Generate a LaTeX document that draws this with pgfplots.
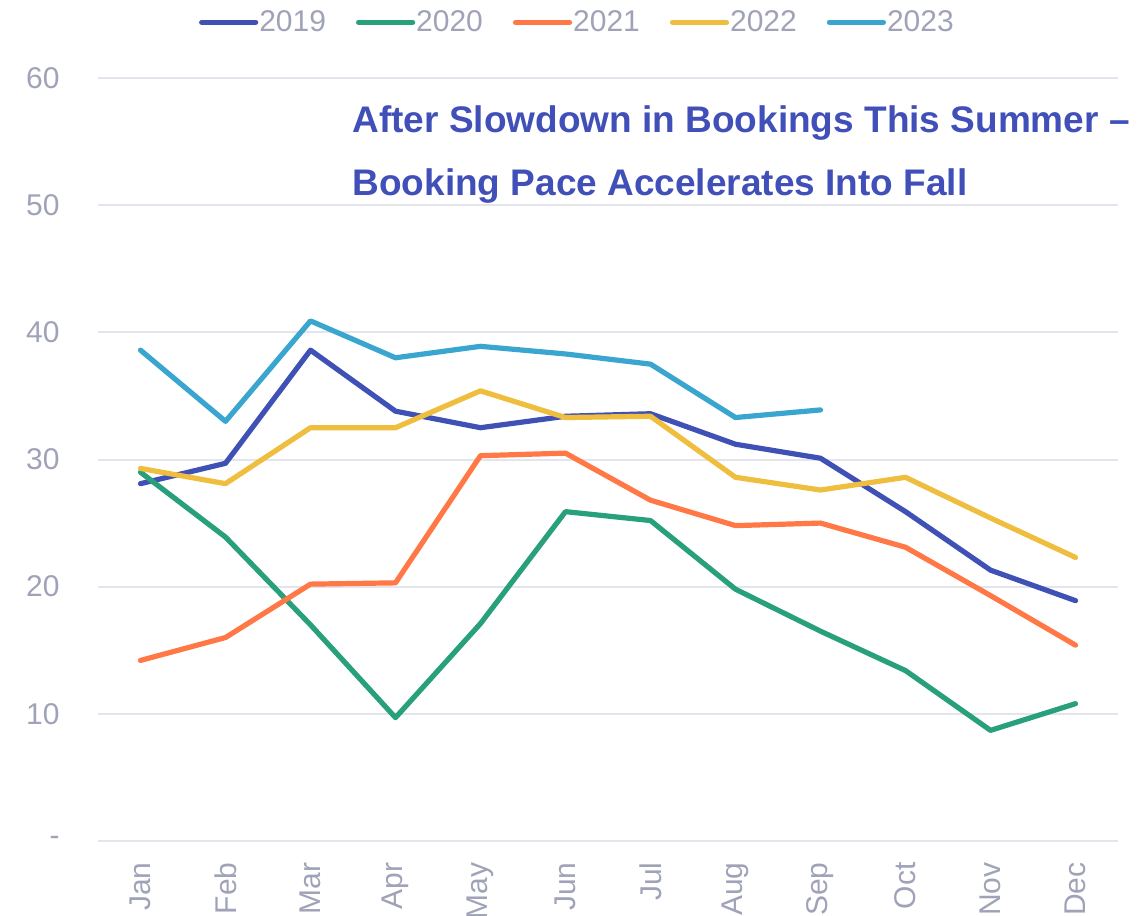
\documentclass[border=0pt]{standalone}
\usepackage{fontspec}
\setmainfont{Liberation Sans}
\usepackage{pgfplots}
\pgfplotsset{compat=1.18}
\definecolor{cA}{HTML}{3F51B5}
\definecolor{cB}{HTML}{27A07B}
\definecolor{cC}{HTML}{FF7845}
\definecolor{cD}{HTML}{F0BE3E}
\definecolor{cE}{HTML}{3AA6D0}
\definecolor{tickc}{HTML}{A0A3B8}
\definecolor{gridc}{HTML}{E4E4EC}
\definecolor{titlec}{HTML}{4050B8}
\begin{document}
\begin{tikzpicture}
\begin{axis}[
  name=ax,
  scale only axis,
  width=510pt, height=381.5pt,
  xmin=-0.5, xmax=11.5, ymin=0, ymax=60,
  xtick={0,...,11},
  xticklabels={Jan,Feb,Mar,Apr,May,Jun,Jul,Aug,Sep,Oct,Nov,Dec},
  ytick={0,10,...,60},
  yticklabels={-,10,20,30,40,50,60},
  /pgf/number format/assume math mode=true,
  axis line style={draw=none},
  major tick length=0pt,
  ymajorgrids,
  grid style={color=gridc, line width=1pt},
  tick label style={font=\fontsize{15}{18}\selectfont, text=tickc, inner sep=0pt},
  xticklabel style={rotate=90, anchor=east},
  xticklabel shift=10.5pt,
  yticklabel shift=19pt,
  clip=false,
  every axis plot/.append style={line width=2.6pt, line join=round, line cap=round, mark=none},
  legend columns=5,
  legend style={draw=none, fill=none, at={(0.471,1.073)}, anchor=center,
    font=\fontsize{15}{18}\selectfont, text=tickc,
    /tikz/every even column/.append style={column sep=13pt},
    /tikz/every odd column/.append style={column sep=-1.5pt},
    inner sep=0pt, cells={anchor=west}},
  legend image code/.code={\draw[#1, line width=2.6pt, line cap=round] (0pt,0pt) -- (27pt,0pt);},
]
\addplot[cA] coordinates {(0,28.1) (1,29.7) (2,38.6) (3,33.8) (4,32.5) (5,33.4) (6,33.6) (7,31.2) (8,30.1) (9,25.9) (10,21.3) (11,18.9)};
\addlegendentry{2019}
\addplot[cB] coordinates {(0,29.0) (1,23.9) (2,17.0) (3,9.7) (4,17.1) (5,25.9) (6,25.2) (7,19.8) (8,16.5) (9,13.4) (10,8.7) (11,10.8)};
\addlegendentry{2020}
\addplot[cC] coordinates {(0,14.2) (1,16.0) (2,20.2) (3,20.3) (4,30.3) (5,30.5) (6,26.8) (7,24.8) (8,25.0) (9,23.1) (10,19.3) (11,15.4)};
\addlegendentry{2021}
\addplot[cD] coordinates {(0,29.3) (1,28.1) (2,32.5) (3,32.5) (4,35.4) (5,33.3) (6,33.4) (7,28.6) (8,27.6) (9,28.6) (10,25.4) (11,22.3)};
\addlegendentry{2022}
\addplot[cE] coordinates {(0,38.6) (1,33.0) (2,40.9) (3,38.0) (4,38.9) (5,38.3) (6,37.5) (7,33.3) (8,33.9)};
\addlegendentry{2023}
\node[anchor=base west, inner sep=0pt, text=titlec, font=\fontsize{18.5}{22}\selectfont\bfseries] at (axis cs:2.49,55.7) {After Slowdown in Bookings This Summer –};
\node[anchor=base west, inner sep=0pt, text=titlec, font=\fontsize{18.5}{22}\selectfont\bfseries] at (axis cs:2.49,50.75) {Booking Pace Accelerates Into Fall};
\end{axis}
\pgfresetboundingbox
\useasboundingbox ([shift={(-49pt,-37pt)}]ax.south west) rectangle ([shift={(520.5pt,420.5pt)}]ax.south west);
\end{tikzpicture}
\end{document}
